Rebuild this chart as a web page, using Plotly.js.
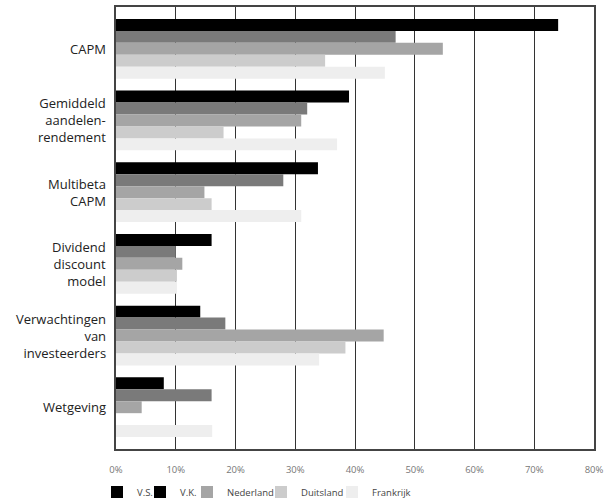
<!DOCTYPE html>
<html>
<head>
<meta charset="utf-8">
<script src="https://cdn.plot.ly/plotly-3.0.1.min.js"></script>
<style>html,body{margin:0;padding:0;background:#fff;}#chart{width:605px;height:504px;}</style>
</head>
<body>
<div id="chart"></div>
<script>
const categories = ["CAPM", "Gemiddeld<br>aandelen-<br>rendement", "Multibeta<br>CAPM", "Dividend<br>discount<br>model", "Verwachtingen<br>van<br>investeerders", "Wetgeving"];
const seriesNames = ["V.S.", "V.K.", "Nederland", "Duitsland", "Frankrijk"];
const vs = [74, 39, 33.8, 16, 14.1, 8];
const vk = [46.8, 32, 28, 10, 18.3, 16];
const nederland = [54.7, 31, 14.8, 11.1, 44.8, 4.3];
const duitsland = [35, 18, 16, 10.2, 38.4, null];
const frankrijk = [45, 37, 31, 10.2, 34, 16.1];
const tickVals = [0, 10, 20, 30, 40, 50, 60, 70, 80];
const tickText = ["0%", "10%", "20%", "30%", "40%", "50%", "60%", "70%", "80%"];

const colors = ["#000000", "#7a7a7a", "#a5a5a5", "#cccccc", "#eeeeee"];
const legendColors = ["#000000", "#000000", "#a5a5a5", "#cccccc", "#eeeeee"];
const values = [vs, vk, nederland, duitsland, frankrijk];
const legendIds = ["legend", "legend2", "legend3", "legend4", "legend5"];

const traces = values.map((v, i) => ({
  type: "bar", orientation: "h",
  x: v, y: categories, name: seriesNames[i],
  marker: {color: colors[i], line: {width: 0}},
  showlegend: i !== 1,
  legend: legendIds[i]
}));
// legend swatch for V.K. is drawn black in the reference
traces.push({
  type: "bar", orientation: "h", x: [0], y: [categories[0]],
  xaxis: "x2", yaxis: "y2", name: seriesNames[1],
  marker: {color: legendColors[1], line: {width: 0}},
  legend: "legend2", hoverinfo: "skip"
});

const legendX = [97, 140, 187, 261, 332];
const legendFont = {size: 9.5, color: "#444", family: "Open Sans, sans-serif"};

const annotations = categories.map(c => ({
  xref: "paper", yref: "y", x: -0.017, y: c,
  xanchor: "right", yanchor: "middle", align: "right",
  text: c, showarrow: false,
  font: {size: 13, color: "#222", family: "Open Sans, sans-serif"}
}));

const layout = {
  width: 605, height: 504,
  margin: {l: 116, r: 11, t: 7, b: 55},
  paper_bgcolor: "#fff", plot_bgcolor: "#fff",
  barmode: "group", bargap: 0.167, bargroupgap: 0,
  font: {family: "Open Sans, sans-serif", color: "#222"},
  xaxis: {
    range: [0, 80], tickvals: tickVals, ticktext: tickText,
    showgrid: true, gridcolor: "#333", gridwidth: 1,
    showline: true, mirror: true, linecolor: "#444", linewidth: 1.6,
    zeroline: false, ticks: "", ticklabelstandoff: 11,
    ticklabeloverflow: "allow", automargin: false,
    tickfont: {size: 9.5, color: "#777"}, fixedrange: true
  },
  yaxis: {
    type: "category", range: [5.583, -0.583],
    showline: true, mirror: true, linecolor: "#444", linewidth: 1.6,
    showgrid: false, ticks: "", showticklabels: false, automargin: false
  },
  xaxis2: {overlaying: "x", visible: false, range: [0, 80]},
  yaxis2: {overlaying: "y", visible: false},
  annotations: annotations,
  showlegend: true
};
legendIds.forEach((id, i) => {
  layout[id] = {
    xref: "container", yref: "container",
    x: legendX[i] / 605, xanchor: "left",
    y: 1 - 492 / 504, yanchor: "middle",
    orientation: "h", font: legendFont, itemwidth: 30,
    bgcolor: "rgba(0,0,0,0)", borderwidth: 0
  };
});

Plotly.newPlot("chart", traces, layout, {displayModeBar: false, staticPlot: true});
</script>
</body>
</html>
